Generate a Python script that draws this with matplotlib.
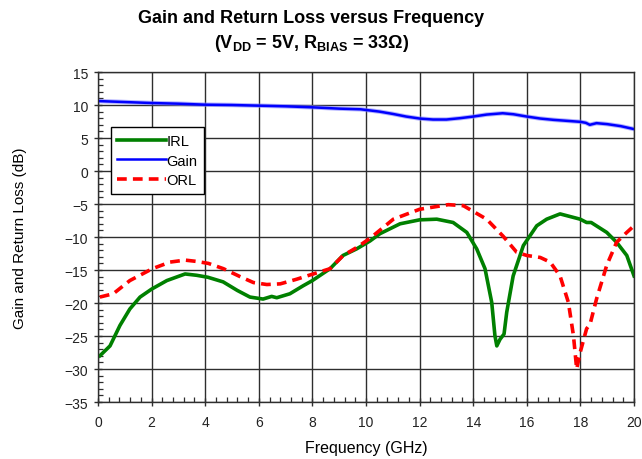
import matplotlib
matplotlib.use("Agg")
import matplotlib.pyplot as plt
from matplotlib.ticker import MultipleLocator
from matplotlib import font_manager

# Narrow sans face if available
names = {f.name for f in font_manager.fontManager.ttflist}
narrow = "Liberation Sans Narrow" if "Liberation Sans Narrow" in names else "Liberation Sans"
plt.rcParams["font.family"] = [narrow, "DejaVu Sans"]
plt.rcParams["mathtext.fontset"] = "custom"
plt.rcParams["mathtext.rm"] = f"{narrow}:bold"
plt.rcParams["mathtext.it"] = f"{narrow}:bold"
plt.rcParams["mathtext.bf"] = f"{narrow}:bold"

# Gain (dB) vs frequency (GHz)
gain_f = [0, 1, 2, 3, 4, 5, 6, 7, 8, 9, 9.8, 10.5, 11, 11.5, 12, 12.5, 13, 13.5,
          14, 14.5, 15.1, 15.5, 16, 16.5, 17, 17.5, 18, 18.2, 18.35, 18.6, 19, 19.5, 20]
gain_db = [10.6, 10.45, 10.3, 10.2, 10.05, 10.0, 9.9, 9.8, 9.65, 9.45, 9.35, 9.0, 8.65,
           8.25, 7.95, 7.8, 7.8, 8.0, 8.25, 8.55, 8.75, 8.6, 8.25, 7.95, 7.75, 7.6, 7.45,
           7.3, 7.0, 7.25, 7.1, 6.8, 6.35]

# Input return loss (dB)
irl_f = [0.07, 0.45, 0.82, 1.19, 1.57, 2.0, 2.57, 3.25, 3.68, 4.1, 4.67, 5.2, 5.67,
         6.16, 6.48, 6.67, 7.16, 7.65, 8.0, 8.66, 9.14, 9.65, 10.15, 10.52, 11.27,
         12.0, 12.64, 13.25, 13.76, 14.13, 14.44, 14.69, 14.81, 14.88, 15.0, 15.15,
         15.25, 15.49, 15.87, 16.37, 16.74, 17.24, 17.99, 18.23, 18.4, 18.98, 19.35,
         19.73, 20.0]
irl_db = [-28.0, -26.5, -23.4, -20.9, -19.1, -17.9, -16.6, -15.6, -15.8, -16.1, -16.8,
          -18.1, -19.1, -19.4, -19.0, -19.2, -18.6, -17.4, -16.6, -14.8, -12.8, -11.8,
          -10.6, -9.5, -8.0, -7.4, -7.3, -7.8, -9.3, -11.8, -14.8, -19.9, -24.95, -26.5,
          -25.5, -24.7, -21.4, -15.9, -11.3, -8.3, -7.3, -6.5, -7.3, -7.8, -7.8, -9.3,
          -10.8, -12.8, -15.9]

# Output return loss (dB)
orl_f = [0.07, 0.57, 1.19, 2.03, 2.69, 3.25, 3.68, 4.12, 4.68, 5.3, 5.8, 6.3, 6.8,
         7.41, 8.03, 8.66, 9.15, 9.65, 10.15, 11.02, 12.0, 13.07, 13.63, 14.5, 15.12,
         15.62, 16.0, 16.5, 16.87, 17.24, 17.55, 17.74, 17.86, 17.99, 18.23, 18.36,
         18.6, 18.98, 19.35, 19.73, 20.0]
orl_db = [-19.1, -18.6, -16.6, -14.8, -13.8, -13.5, -13.7, -14.0, -14.8, -16.0, -16.9,
          -17.2, -17.1, -16.4, -15.6, -14.8, -12.8, -11.6, -10.2, -7.3, -5.8, -5.1,
          -5.25, -7.3, -9.9, -12.3, -12.8, -13.1, -13.8, -15.9, -19.9, -24.95, -30.0,
          -27.5, -23.9, -23.2, -19.4, -14.3, -10.8, -9.3, -8.3]

x_ticks = list(range(0, 21, 2))
y_ticks = list(range(-35, 16, 5))

fig = plt.figure(figsize=(6.42, 4.6), dpi=100)
ax = fig.add_axes([0.1526, 0.1239, 0.835, 0.7174])

grid_c = "#2e2e2e"
ax.set_xlim(0, 20)
ax.set_ylim(-35, 15)
ax.set_xticks(x_ticks)
ax.set_yticks(y_ticks)
ax.xaxis.set_minor_locator(MultipleLocator(0.4))
ax.yaxis.set_minor_locator(MultipleLocator(1))
ax.grid(True, which="major", color=grid_c, lw=1.0)
ax.set_axisbelow(True)
ax.tick_params(which="major", direction="inout", length=6, width=1.0, color=grid_c,
               labelsize=10, labelcolor="#222222", pad=4)
ax.tick_params(which="minor", direction="in", length=3.5, width=0.9, color=grid_c)
ax.tick_params(axis="x", pad=6)
for s in ax.spines.values():
    s.set_color(grid_c)
    s.set_linewidth(1.0)

ax.plot(irl_f, irl_db, color="#008000", lw=2.6, label="IRL", solid_joinstyle="round")
ax.plot(gain_f, gain_db, color="#8080ff", lw=3.2, alpha=0.6)
ax.plot(gain_f, gain_db, color="#0000ff", lw=1.8, label="Gain")
ax.plot(orl_f, orl_db, color="#ff0000", lw=2.6, ls=(0, (2.7, 1.7)), label="ORL")

handles, labels = ax.get_legend_handles_labels()
leg = ax.legend(handles, labels, loc="upper left", bbox_to_anchor=(0.024, 0.833),
                frameon=True, fancybox=False, edgecolor="black", framealpha=1,
                fontsize=10.5, handlelength=3.3, handletextpad=0.05,
                labelspacing=0.4, borderpad=0.45, borderaxespad=0)
leg.get_frame().set_linewidth(1.0)

ax.set_xlabel("Frequency (GHz)", fontsize=11.5, labelpad=8)
ax.set_ylabel("Gain and Return Loss (dB)", fontsize=11, labelpad=27)

fig.text(0.485, 0.96, "Gain and Return Loss versus Frequency", ha="center", va="center",
         fontsize=13, fontweight="bold")
fig.text(0.485, 0.905, r"(V$_{\mathrm{DD}}$ = 5V, R$_{\mathrm{BIAS}}$ = 33Ω)", ha="center",
         va="center", fontsize=13, fontweight="bold")

fig.savefig("out.png", dpi=100)
